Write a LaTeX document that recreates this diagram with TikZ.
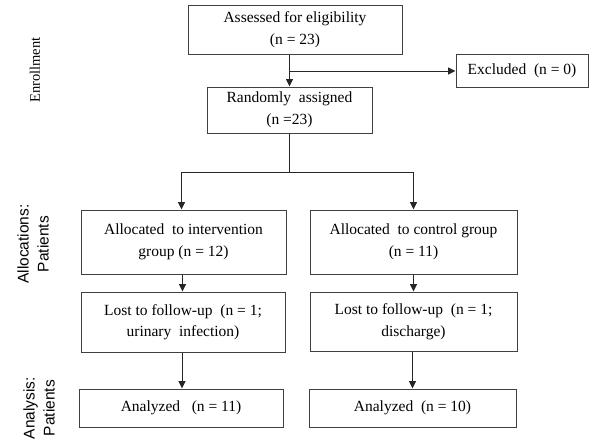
\documentclass[tikz,border=0pt]{standalone}
\usepackage{fontspec}
\setmainfont{Liberation Serif}
\setsansfont{Liberation Sans}
\usetikzlibrary{arrows.meta}
\tikzset{
  box/.style={draw=black!75, line width=1pt, inner sep=0pt, align=center,
    font=\fontsize{15.5}{21.5}\selectfont, anchor=center},
  arr/.style={line width=0.9pt, draw=black!85, -{Triangle[length=7.5pt,width=7pt]}},
  ln/.style={line width=0.9pt, draw=black!85},
  sidelab/.style={rotate=90, align=center, font=\sffamily\fontsize{15.5}{20}\selectfont}
}
\begin{document}
\begin{tikzpicture}[x=1pt,y=-1pt]
\useasboundingbox (0,0) rectangle (601,440);
\node[box, minimum width=214pt, minimum height=49pt] (assess) at (295,29.5) {Assessed for eligibility\\(n = 23)};
\node[box, minimum width=165pt, minimum height=46pt] (rand) at (289.5,110) {Randomly\ \ assigned\\(n =23)};
\node[box, minimum width=132pt, minimum height=33pt] (excl) at (522,71) {Excluded\ \ (n = 0)};
\node[box, minimum width=205pt, minimum height=64pt] (alloc1) at (183.5,242) {Allocated\ \ to intervention\\group (n = 12)};
\node[box, minimum width=207pt, minimum height=64pt] (alloc2) at (413.5,242) {Allocated\ \ to control group\\(n = 11)};
\node[box, minimum width=204pt, minimum height=60pt] (lost1) at (183,322) {Lost to follow-up\ \ (n = 1;\\urinary\ \ infection)};
\node[box, minimum width=207pt, minimum height=59pt] (lost2) at (413.5,321.5) {Lost to follow-up\ \ (n = 1;\\discharge)};
\node[box, minimum width=204pt, minimum height=38pt] (ana1) at (181,408) {Analyzed\ \ \ (n = 11)};
\node[box, minimum width=207pt, minimum height=38pt] (ana2) at (412.5,408) {Analyzed\ \ (n = 10)};
\node[rotate=90, font=\fontsize{14.5}{20}\selectfont] (enr) at (35,70) {Enrollment};
\node[sidelab] (allocl) at (33,244) {Allocations:\\Patients};
\node[sidelab] (anal) at (39,408) {Analysis:\\Patients};
\coordinate (split) at (289.5,172);
\draw[arr] (assess.south -| rand.north) -- (rand.north);
\draw[arr] (rand.north |- excl.west) -- (excl.west);
\draw[ln] (rand.south) -- (split);
\draw[arr] (split) -| ([xshift=-2pt]alloc1.north);
\draw[arr] (split) -| (alloc2.north);
\draw[arr] ([xshift=-1pt]alloc1.south) -- ([xshift=-1pt]alloc1.south |- lost1.north);
\draw[arr] (alloc2.south) -- (alloc2.south |- lost2.north);
\draw[arr] ([xshift=-1pt]lost1.south) -- ([xshift=-1pt]lost1.south |- ana1.north);
\draw[arr] ([xshift=-1pt]lost2.south) -- ([xshift=-1pt]lost2.south |- ana2.north);
\end{tikzpicture}
\end{document}
